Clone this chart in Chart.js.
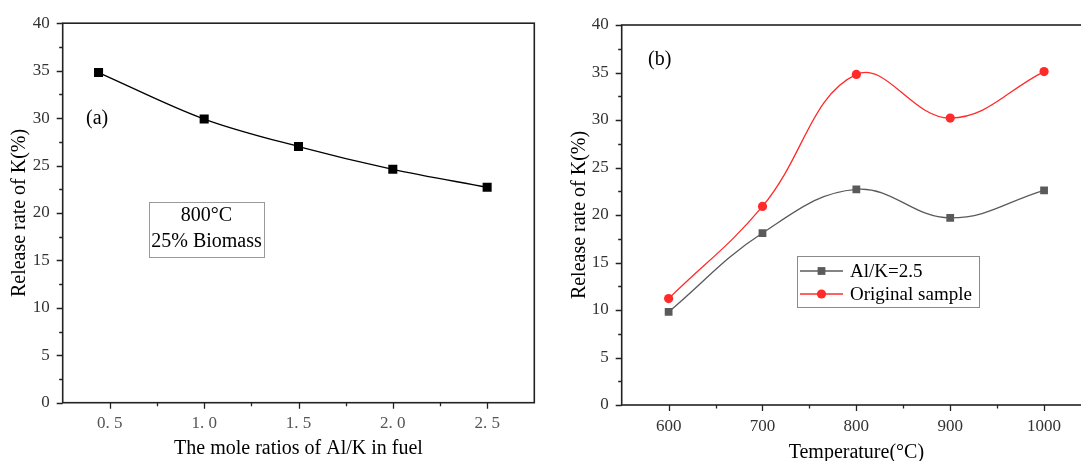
<!DOCTYPE html>
<html>
<head>
<meta charset="utf-8">
<script src="https://cdn.jsdelivr.net/npm/chart.js@4.4.1/dist/chart.umd.min.js"></script>
<style>
  html, body { margin: 0; padding: 0; background: #fff; overflow: hidden; }
  body { width: 1081px; height: 461px; position: relative; }
  canvas { position: absolute; top: 0; }
  #chartA { left: 0; }
  #chartB { left: 560px; }
</style>
</head>
<body>
<canvas id="chartA" width="560" height="461"></canvas>
<canvas id="chartB" width="560" height="461"></canvas>
<script>
// (a) release of K against the Al/K mole ratio, 800°C, 25% biomass
const ratios = [0.44, 1.0, 1.5, 2.0, 2.5];
const releaseByRatio = [34.8, 29.9, 27.0, 24.6, 22.7];
const ratioTicks = [0.5, 1.0, 1.5, 2.0, 2.5];

// (b) release of K against temperature
const temperatures = [600, 700, 800, 900, 1000];
const releaseAlK = [9.8, 18.1, 22.7, 19.7, 22.6];
const releaseOriginal = [11.2, 20.9, 34.8, 30.2, 35.1];
const tempTicks = [600, 700, 800, 900, 1000];

const releaseTicks = [0, 5, 10, 15, 20, 25, 30, 35, 40];

const SERIF = "'Liberation Serif', 'Times New Roman', serif";

// halfway values between major ticks (and half a step past each end)
function minorValues(majors, min, max) {
    const out = [];
    const step = majors[1] - majors[0];
    const first = majors[0] - step / 2;
    for (let v = first; v <= majors[majors.length - 1] + step / 2 + 1e-9; v += step) {
        if (v > min + 1e-9 && v < max - 1e-9) out.push(v);
    }
    return out;
}

// box around the plot plus outward major/minor tick marks
const axisFrame = {
    id: 'axisFrame',
    afterDraw(chart) {
        const { ctx, chartArea: a, scales: { x, y } } = chart;
        ctx.save();
        ctx.strokeStyle = '#222';
        ctx.lineWidth = 1.6;
        ctx.strokeRect(a.left, a.top, a.right - a.left, a.bottom - a.top);

        ctx.lineWidth = 1.3;
        ctx.beginPath();
        const xMajor = x.ticks.map(t => t.value);
        xMajor.forEach(v => {
            const px = Math.round(x.getPixelForValue(v)) + 0.5;
            ctx.moveTo(px, a.bottom); ctx.lineTo(px, a.bottom + 6);
        });
        minorValues(xMajor, x.min, x.max).forEach(v => {
            const px = Math.round(x.getPixelForValue(v)) + 0.5;
            ctx.moveTo(px, a.bottom); ctx.lineTo(px, a.bottom + 3.5);
        });
        const yMajor = y.ticks.map(t => t.value);
        yMajor.forEach(v => {
            const py = Math.round(y.getPixelForValue(v)) + 0.5;
            ctx.moveTo(a.left, py); ctx.lineTo(a.left - 6, py);
        });
        minorValues(yMajor, y.min, y.max).forEach(v => {
            const py = Math.round(y.getPixelForValue(v)) + 0.5;
            ctx.moveTo(a.left, py); ctx.lineTo(a.left - 3.5, py);
        });
        ctx.stroke();
        ctx.restore();
    }
};

function releaseAxis(width, titlePad) {
    return {
        type: 'linear',
        min: 0,
        max: 40,
        afterFit(scale) { scale.width = width; },
        afterBuildTicks(scale) { scale.ticks = releaseTicks.map(v => ({ value: v })); },
        grid: { display: false, drawTicks: false },
        border: { display: false },
        ticks: {
            padding: 13,
            color: '#333',
            font: { family: SERIF, size: 17 },
            callback: v => String(v)
        },
        title: {
            display: true,
            text: 'Release rate of K(%)',
            color: '#000',
            padding: { top: titlePad, bottom: 0 },
            font: { family: SERIF, size: 20, lineHeight: 1 }
        }
    };
}

// panel (a)
new Chart(document.getElementById('chartA'), {
    type: 'line',
    data: {
        datasets: [{
            label: '800°C',
            data: ratios.map((r, i) => ({ x: r, y: releaseByRatio[i] })),
            borderColor: '#000',
            borderWidth: 1.3,
            backgroundColor: '#000',
            pointStyle: 'rect',
            pointRadius: 6.4,
            pointBorderWidth: 0,
            cubicInterpolationMode: 'monotone'
        }]
    },
    options: {
        responsive: false,
        animation: false,
        layout: { padding: { top: 20, right: 25.7, left: 0, bottom: 0 } },
        plugins: {
            legend: { display: false },
            tooltip: { enabled: false }
        },
        scales: {
            x: {
                type: 'linear',
                min: 0.25,
                max: 2.75,
                afterFit(scale) { scale.height = 58.3; },
                afterBuildTicks(scale) { scale.ticks = ratioTicks.map(v => ({ value: v })); },
                grid: { display: false, drawTicks: false },
                border: { display: false },
                ticks: {
                    padding: 11,
                    color: '#555',
                    font: { family: SERIF, size: 17 },
                    callback: v => v.toFixed(1).replace('.', '. ')
                },
                title: {
                    display: true,
                    text: 'The mole ratios of Al/K in fuel',
                    color: '#000',
                    padding: { top: 0, bottom: 2.5 },
                    font: { family: SERIF, size: 20, lineHeight: 1 }
                }
            },
            y: releaseAxis(62.7, 9.3)
        }
    },
    plugins: [axisFrame, {
        id: 'notesA',
        afterDraw(chart) {
            const ctx = chart.ctx;
            ctx.save();
            ctx.fillStyle = '#000';
            ctx.font = '20px ' + SERIF;
            ctx.textBaseline = 'middle';
            ctx.textAlign = 'left';
            ctx.fillText('(a)', 86, 119);
            ctx.strokeStyle = '#9a9a9a';
            ctx.lineWidth = 1;
            ctx.strokeRect(149.5, 202.5, 115, 55);
            ctx.textAlign = 'center';
            ctx.fillText('800°C', 206.5, 216);
            ctx.fillText('25% Biomass', 206.5, 242);
            ctx.restore();
        }
    }]
});

// panel (b)
const seriesB = [
    { label: 'Al/K=2.5', values: releaseAlK, color: '#5a5a5a', style: 'rect', radius: 5.5 },
    { label: 'Original sample', values: releaseOriginal, color: '#ff2b2b', style: 'circle', radius: 4.6 }
];

new Chart(document.getElementById('chartB'), {
    type: 'line',
    data: {
        datasets: seriesB.map(s => ({
            label: s.label,
            data: temperatures.map((t, i) => ({ x: t, y: s.values[i] })),
            borderColor: s.color,
            borderWidth: 1.3,
            backgroundColor: s.color,
            pointStyle: s.style,
            pointRadius: s.radius,
            pointBorderWidth: 0,
            tension: 0.4
        }))
    },
    options: {
        responsive: false,
        animation: false,
        layout: { padding: { top: 25, right: 29, left: 0, bottom: 0 } },
        plugins: {
            legend: { display: false },
            tooltip: { enabled: false }
        },
        scales: {
            x: {
                type: 'linear',
                min: 550,
                max: 1050,
                afterFit(scale) { scale.height = 56; },
                afterBuildTicks(scale) { scale.ticks = tempTicks.map(v => ({ value: v })); },
                grid: { display: false, drawTicks: false },
                border: { display: false },
                ticks: {
                    padding: 11,
                    color: '#333',
                    font: { family: SERIF, size: 17 },
                    callback: v => String(v)
                },
                title: {
                    display: true,
                    text: 'Temperature(°C)',
                    color: '#000',
                    padding: { top: 0, bottom: -1.5 },
                    font: { family: SERIF, size: 20, lineHeight: 1 }
                }
            },
            y: releaseAxis(61.7, 9.3)
        }
    },
    plugins: [axisFrame, {
        id: 'notesB',
        afterDraw(chart) {
            const ctx = chart.ctx;
            ctx.save();
            ctx.fillStyle = '#000';
            ctx.font = '20px ' + SERIF;
            ctx.textBaseline = 'middle';
            ctx.textAlign = 'left';
            ctx.fillText('(b)', 88, 60);

            // legend box
            ctx.strokeStyle = '#8a8a8a';
            ctx.lineWidth = 1;
            ctx.strokeRect(237.5, 256.5, 182, 51);
            ctx.font = '19px ' + SERIF;
            chart.data.datasets.forEach((ds, i) => {
                const rowY = 271 + i * 23;
                ctx.strokeStyle = ds.borderColor;
                ctx.lineWidth = ds.borderWidth;
                ctx.beginPath();
                ctx.moveTo(240, rowY);
                ctx.lineTo(283, rowY);
                ctx.stroke();
                ctx.fillStyle = ds.backgroundColor;
                Chart.helpers.drawPoint(ctx, {
                    pointStyle: ds.pointStyle,
                    radius: ds.pointRadius,
                    borderWidth: 0,
                    rotation: 0
                }, 261.5, rowY);
                ctx.fillStyle = '#000';
                ctx.fillText(ds.label, 290, rowY + 1);
            });
            ctx.restore();
        }
    }]
});
</script>
</body>
</html>
